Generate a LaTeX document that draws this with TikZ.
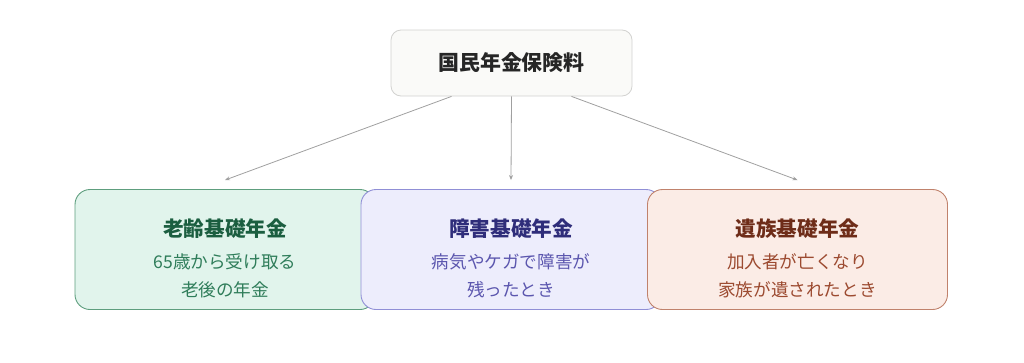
\documentclass[tikz,border=0pt]{standalone}
\usepackage{fontspec}
\setmainfont{Noto Sans CJK JP}
\usetikzlibrary{calc,arrows.meta}
\definecolor{topfill}{HTML}{FAFAF8}
\definecolor{topdraw}{HTML}{D2D2D0}
\definecolor{gfill}{HTML}{E1F4EC}
\definecolor{gdraw}{HTML}{5E9E7E}
\definecolor{gtitle}{HTML}{1B5E40}
\definecolor{gsub}{HTML}{2F7D5A}
\definecolor{pfill}{HTML}{EDEDFC}
\definecolor{pdraw}{HTML}{908FD6}
\definecolor{ptitle}{HTML}{2F2D7A}
\definecolor{psub}{HTML}{5B56AE}
\definecolor{rfill}{HTML}{FBECE6}
\definecolor{rdraw}{HTML}{C0826C}
\definecolor{rtitle}{HTML}{6E2C18}
\definecolor{rsub}{HTML}{9C4A30}
\definecolor{arr}{HTML}{A0A0A0}
\tikzset{
  x=1pt, y=-1pt,
  topbox/.style={draw=topdraw, fill=topfill, line width=0.8pt, rounded corners=10pt,
    minimum width=241pt, minimum height=66pt, inner sep=0pt,
    font=\fontsize{20.9}{24}\selectfont\bfseries, text=black!85},
  kind/.style={line width=0.9pt, rounded corners=15pt, minimum width=300pt,
    minimum height=120pt, inner sep=0pt},
  ttl/.style={font=\fontsize{20.6}{24}\selectfont\bfseries, anchor=center},
  sub/.style={font=\fontsize{17.6}{28}\selectfont, align=center, anchor=center},
  link/.style={draw=arr, line width=0.8pt, -{Stealth[length=5pt,width=4pt]}}
}
\begin{document}
\begin{tikzpicture}
\useasboundingbox (0,0) rectangle (1024,362);
\node[topbox] (top) at (511.5,63) {国民年金保険料};
\node[kind, draw=gdraw, fill=gfill] (old) at (225,249.5) {};
\node[kind, draw=pdraw, fill=pfill] (dis) at (511,249.5) {};
\node[kind, draw=rdraw, fill=rfill] (sur) at (797.5,249.5) {};
\node[ttl, text=gtitle] (oldt) at (225,229) {老齢基礎年金};
\node[sub, text=gsub] (olds) at (225,276) {65歳から受け取る\\老後の年金};
\node[ttl, text=ptitle] (dist) at (511,229) {障害基礎年金};
\node[sub, text=psub] (diss) at (511,276) {病気やケガで障害が\\残ったとき};
\node[ttl, text=rtitle] (surt) at (797.5,229) {遺族基礎年金};
\node[sub, text=rsub] (surs) at (797.5,276) {加入者が亡くなり\\家族が遺されたとき};
\coordinate (s1) at ($(top.south)+(-60,0)$);
\coordinate (s3) at ($(top.south)+(60,0)$);
\coordinate (e1) at ($(old.north)+(0,-9)$);
\coordinate (e2) at ($(dis.north)+(0,-9)$);
\coordinate (e3) at ($(sur.north)+(0,-9)$);
\draw[link] (s1) -- (e1);
\draw[link] (top.south) -- (e2);
\draw[link] (s3) -- (e3);
\end{tikzpicture}
\end{document}
